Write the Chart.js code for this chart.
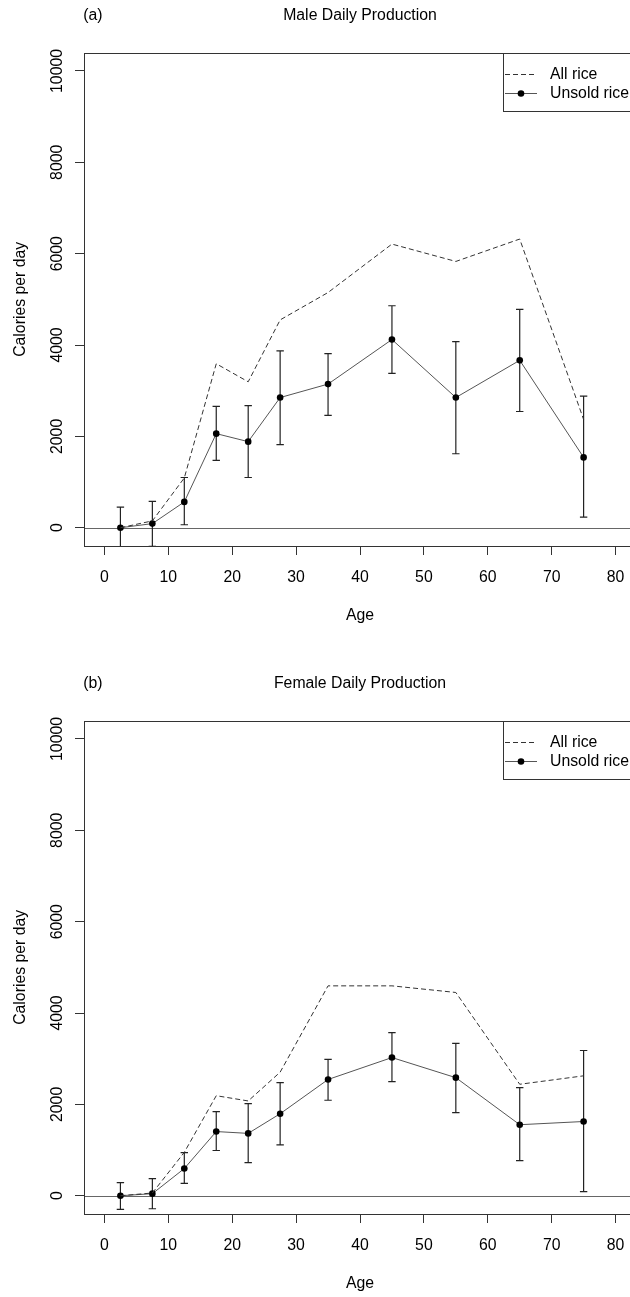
<!DOCTYPE html>
<html>
<head>
<meta charset="utf-8">
<script src="https://cdn.jsdelivr.net/npm/chart.js@4.4.1/dist/chart.umd.min.js"></script>
<style>
  html, body { margin: 0; padding: 0; background: #fff; overflow: hidden; }
  #wrap { position: relative; width: 630px; height: 1297px; overflow: hidden; background: #fff; }
  canvas { position: absolute; left: 0; }
  #panelA { top: 0; }
  #panelB { top: 668px; }
</style>
</head>
<body>
<div id="wrap">
  <canvas id="panelA" width="640" height="668"></canvas>
  <canvas id="panelB" width="640" height="668"></canvas>
</div>
<script>
// age group midpoints
const ages = [2.5, 7.5, 12.5, 17.5, 22.5, 27.5, 35, 45, 55, 65, 75];

// male calories per day
const maleAll = [0, 150, 1090, 3590, 3195, 4550, 5150, 6210, 5830, 6320, 2370];
const maleUnsold = [0, 90, 565, 2060, 1885, 2850, 3145, 4120, 2850, 3665, 1540];
const maleLow = [-450, -410, 65, 1475, 1100, 1820, 2460, 3380, 1620, 2545, 230];
const maleHigh = [450, 575, 1100, 2655, 2675, 3870, 3810, 4860, 4075, 4780, 2880];

// female calories per day
const femaleAll = [0, 60, 950, 2190, 2075, 2705, 4595, 4595, 4450, 2440, 2625];
const femaleUnsold = [0, 45, 595, 1405, 1365, 1795, 2545, 3025, 2585, 1555, 1625];
const femaleLow = [-300, -285, 270, 990, 725, 1115, 2090, 2500, 1820, 770, 90];
const femaleHigh = [285, 375, 945, 1840, 2015, 2475, 2985, 3570, 3335, 2365, 3180];

const xTicks = [0, 10, 20, 30, 40, 50, 60, 70, 80];
const yTicks = [0, 2000, 4000, 6000, 8000, 10000];
const seriesNames = ["All rice", "Unsold rice"];

const FONT = "'Liberation Sans', Arial, sans-serif";
const FSIZE = 15.8;

// vertical error bars with caps, clipped to plot region
const errorBars = {
  id: "errorBars",
  beforeDatasetsDraw(chart, args, opts) {
    const { ctx, chartArea: a, scales: { x, y } } = chart;
    ctx.save();
    ctx.beginPath();
    ctx.rect(a.left, a.top, a.right - a.left, a.bottom - a.top);
    ctx.clip();
    // zero line
    const y0 = Math.round(y.getPixelForValue(0)) + 0.5;
    ctx.strokeStyle = "#666";
    ctx.lineWidth = 1;
    ctx.beginPath();
    ctx.moveTo(a.left, y0);
    ctx.lineTo(a.right, y0);
    ctx.stroke();

    ctx.strokeStyle = "#222";
    ctx.lineWidth = 1.2;
    opts.low.forEach((lo, i) => {
      const px = x.getPixelForValue(ages[i]);
      const pLo = y.getPixelForValue(lo);
      const pHi = y.getPixelForValue(opts.high[i]);
      ctx.beginPath();
      ctx.moveTo(px, pLo); ctx.lineTo(px, pHi);
      ctx.moveTo(px - 3.7, pLo); ctx.lineTo(px + 3.7, pLo);
      ctx.moveTo(px - 3.7, pHi); ctx.lineTo(px + 3.7, pHi);
      ctx.stroke();
    });
    ctx.restore();
  }
};

// box, panel tag and legend like the R plot
const rPanel = {
  id: "rPanel",
  afterDraw(chart, args, opts) {
    const { ctx, chartArea: a } = chart;
    ctx.save();
    ctx.strokeStyle = "#333";
    ctx.lineWidth = 1;
    const L = Math.round(a.left) + 0.5, T = Math.round(a.top) + 0.5;
    const R = Math.round(a.right) + 0.5, B = Math.round(a.bottom) + 0.5;
    ctx.strokeRect(L, T, R - L, B - T);

    ctx.fillStyle = "#000";
    ctx.font = FSIZE + "px " + FONT;
    ctx.textBaseline = "middle";
    ctx.textAlign = "left";
    ctx.fillText(opts.tag, 83.3, 15.7);

    // legend
    const lx = 503.5, lb = 111.5;
    ctx.strokeRect(lx, T, R - lx, lb - T);
    const r1 = 74.5, r2 = 93.5;
    ctx.strokeStyle = "#333";
    ctx.setLineDash([5, 3]);
    ctx.beginPath(); ctx.moveTo(505, r1); ctx.lineTo(537, r1); ctx.stroke();
    ctx.setLineDash([]);
    ctx.strokeStyle = "#555";
    ctx.beginPath(); ctx.moveTo(505, r2); ctx.lineTo(537, r2); ctx.stroke();
    ctx.beginPath(); ctx.arc(521, r2, 3.3, 0, Math.PI * 2); ctx.fill();
    ctx.fillText(seriesNames[0], 550, r1);
    ctx.fillText(seriesNames[1], 550, r2);
    ctx.restore();
  }
};

function makePanel(id, tag, title, allRice, unsold, low, high) {
  const font = { family: FONT, size: FSIZE, weight: "normal" };
  new Chart(document.getElementById(id), {
    type: "line",
    data: {
      datasets: [
        {
          label: seriesNames[0],
          data: ages.map((a, i) => ({ x: a, y: allRice[i] })),
          borderColor: "#333",
          borderWidth: 1,
          borderDash: [5, 3],
          pointRadius: 0,
          tension: 0
        },
        {
          label: seriesNames[1],
          data: ages.map((a, i) => ({ x: a, y: unsold[i] })),
          borderColor: "#555",
          borderWidth: 1,
          pointRadius: 3.3,
          pointBackgroundColor: "#000",
          pointBorderWidth: 0,
          tension: 0
        }
      ]
    },
    options: {
      responsive: false,
      animation: false,
      events: [],
      layout: { padding: { left: 0, right: 3.9, top: 0, bottom: 0 } },
      plugins: {
        legend: { display: false },
        tooltip: { enabled: false },
        title: {
          display: true, text: title, fullSize: false, color: "#000", font,
          padding: { top: 6, bottom: 27.74 }
        },
        errorBars: { low, high },
        rPanel: { tag }
      },
      scales: {
        x: {
          type: "linear", min: -3.2, max: 83.2,
          afterBuildTicks: (s) => { s.ticks = xTicks.map((v) => ({ value: v })); },
          afterFit: (s) => { s.height = 122; },
          grid: { drawOnChartArea: false, tickLength: 9, tickColor: "#333", tickWidth: 1 },
          border: { display: false },
          ticks: { font, color: "#000", padding: 13.2, maxRotation: 0, autoSkip: false, callback: (v) => String(v) },
          title: { display: true, text: "Age", color: "#000", font, padding: { top: 0, bottom: 42.5 } }
        },
        y: {
          type: "linear", min: -400, max: 10400,
          afterBuildTicks: (s) => { s.ticks = yTicks.map((v) => ({ value: v })); },
          afterFit: (s) => { s.width = 84; },
          grid: { drawOnChartArea: false, tickLength: 9, tickColor: "#333", tickWidth: 1 },
          border: { display: false },
          ticks: { font, color: "#000", minRotation: 90, maxRotation: 90, crossAlign: "center", padding: -5, autoSkip: false, callback: (v) => String(v) },
          title: { display: true, text: "Calories per day", color: "#000", font, padding: { top: 11.2, bottom: 0 } }
        }
      }
    },
    plugins: [errorBars, rPanel]
  });
}

makePanel("panelA", "(a)", "Male Daily Production", maleAll, maleUnsold, maleLow, maleHigh);
makePanel("panelB", "(b)", "Female Daily Production", femaleAll, femaleUnsold, femaleLow, femaleHigh);
</script>
</body>
</html>
